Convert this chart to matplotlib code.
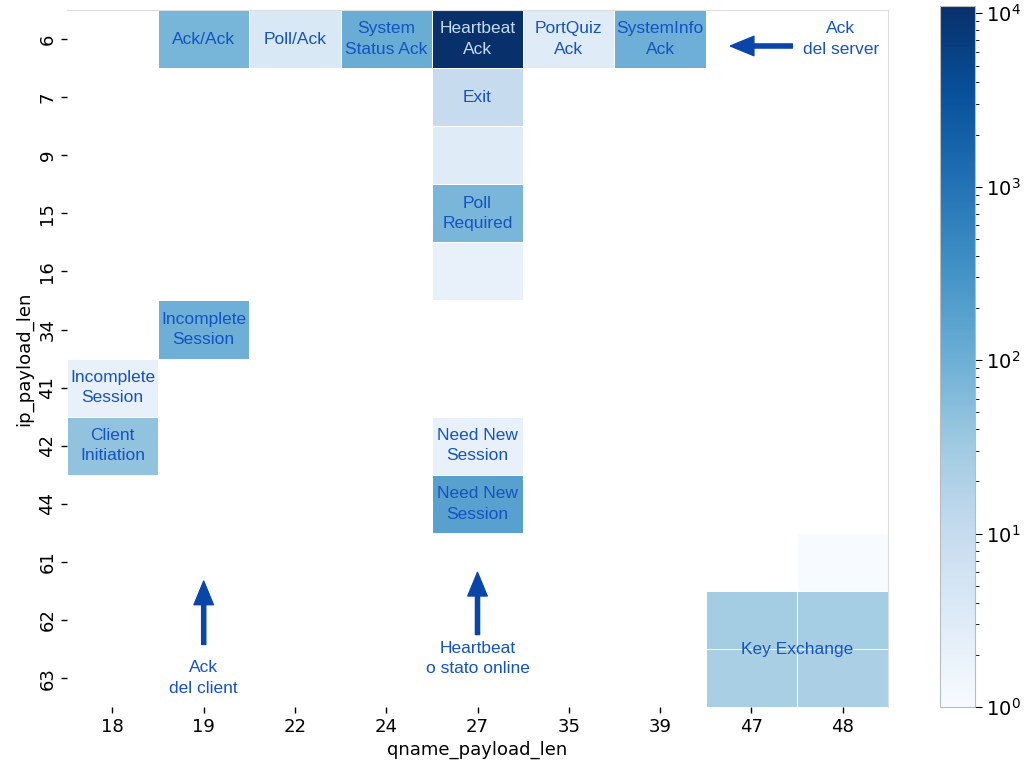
import numpy as np
import matplotlib
matplotlib.use("Agg")
import matplotlib.pyplot as plt
from matplotlib.colors import LogNorm
from matplotlib import font_manager

# axis categories
ip_payload_len = [6, 7, 9, 15, 16, 34, 41, 42, 44, 61, 62, 63]
qname_payload_len = [18, 19, 22, 24, 27, 35, 39, 47, 48]

nan = np.nan
# packet counts, one row per ip_payload_len
counts = [
    [nan, 80, 4, 110, 11000, 3, 100, nan, nan],   # 6
    [nan, nan, nan, nan, 10, nan, nan, nan, nan],  # 7
    [nan, nan, nan, nan, 3, nan, nan, nan, nan],   # 9
    [nan, nan, nan, nan, 75, nan, nan, nan, nan],  # 15
    [nan, nan, nan, nan, 2, nan, nan, nan, nan],   # 16
    [nan, 100, nan, nan, nan, nan, nan, nan, nan], # 34
    [2, nan, nan, nan, nan, nan, nan, nan, nan],   # 41
    [45, nan, nan, nan, 2, nan, nan, nan, nan],    # 42
    [nan, nan, nan, nan, 180, nan, nan, nan, nan], # 44
    [nan, nan, nan, nan, nan, nan, nan, nan, 1],   # 61
    [nan, nan, nan, nan, nan, nan, nan, 28, 27],   # 62
    [nan, nan, nan, nan, nan, nan, nan, 24, 22],   # 63
]

# message type names written in the cells: (ip_payload_len, qname_payload_len, text)
cell_labels = [
    (6, 19, "Ack/Ack"),
    (6, 22, "Poll/Ack"),
    (6, 24, "System\nStatus Ack"),
    (6, 27, "Heartbeat\nAck"),
    (6, 35, "PortQuiz\nAck"),
    (6, 39, "SystemInfo\nAck"),
    (7, 27, "Exit"),
    (15, 27, "Poll\nRequired"),
    (34, 19, "Incomplete\nSession"),
    (41, 18, "Incomplete\nSession"),
    (42, 18, "Client\nInitiation"),
    (42, 27, "Need New\nSession"),
    (44, 27, "Need New\nSession"),
]

installed = {f.name for f in font_manager.fontManager.ttflist}
tick_family = ["Liberation Sans Narrow", "DejaVu Sans"] if "Liberation Sans Narrow" in installed else ["DejaVu Sans"]
note_family = ["Liberation Sans", "DejaVu Sans"]
text_blue = "#1552c2"
arrow_blue = "#0a45a8"
note_size = 12.5
note_spacing = 1.45

fig = plt.figure(figsize=(10.28, 7.67), dpi=100)
ax = fig.add_axes([0.065, 0.078, 0.799, 0.909])
cax = fig.add_axes([0.914, 0.078, 0.034, 0.914])

data = np.ma.masked_invalid(np.array(counts, dtype=float))
mesh = ax.pcolormesh(np.arange(len(qname_payload_len) + 1),
                     np.arange(len(ip_payload_len) + 1),
                     data, cmap="Blues", norm=LogNorm(vmin=1, vmax=11000),
                     edgecolors="white", linewidth=0.6)
ax.set_xlim(0, len(qname_payload_len))
ax.set_ylim(len(ip_payload_len), 0)

ax.set_xticks(np.arange(len(qname_payload_len)) + 0.5)
ax.set_xticklabels([str(v) for v in qname_payload_len], family=tick_family, fontsize=13)
ax.set_yticks(np.arange(len(ip_payload_len)) + 0.5)
ax.set_yticklabels([str(v) for v in ip_payload_len], family=tick_family, fontsize=13,
                   rotation=90, va="center")
ax.tick_params(length=4, width=1)
ax.set_xlabel("qname_payload_len", family=tick_family, fontsize=13)
ax.set_ylabel("ip_payload_len", family=tick_family, fontsize=13)

for side in ["left", "bottom"]:
    ax.spines[side].set_visible(False)
for side in ["top", "right"]:
    ax.spines[side].set_color("#dddddd")

for ip, qn, label in cell_labels:
    r = ip_payload_len.index(ip)
    c = qname_payload_len.index(qn)
    color = "#c6dbef" if counts[r][c] > 3000 else text_blue
    ax.text(c + 0.5, r + 0.5, label, ha="center", va="center", color=color,
            family=note_family, fontsize=note_size, linespacing=note_spacing)

# Key Exchange spans the four cells at the bottom right
ax.text(qname_payload_len.index(48), ip_payload_len.index(63), "Key Exchange",
        ha="center", va="center", color=text_blue, family=note_family, fontsize=note_size)

arrow = dict(facecolor=arrow_blue, edgecolor=arrow_blue, width=3, headwidth=14, headlength=17)
# server ack
ax.annotate("", xy=(7.27, 0.62), xytext=(7.95, 0.62), arrowprops=arrow)
ax.text(8.48, 0.5, "Ack\ndel server", ha="center", va="center", color=text_blue,
        family=note_family, fontsize=note_size, linespacing=note_spacing)
# client ack
ax.annotate("", xy=(1.5, 9.83), xytext=(1.5, 10.92), arrowprops=arrow)
ax.text(1.5, 11.5, "Ack\ndel client", ha="center", va="center", color=text_blue,
        family=note_family, fontsize=note_size, linespacing=note_spacing)
# heartbeat
ax.annotate("", xy=(4.5, 9.68), xytext=(4.5, 10.75), arrowprops=arrow)
ax.text(4.5, 11.16, "Heartbeat\no stato online", ha="center", va="center", color=text_blue,
        family=note_family, fontsize=note_size, linespacing=note_spacing)

cb = fig.colorbar(mesh, cax=cax)
cb.outline.set_edgecolor("#bbbbbb")
cb.outline.set_linewidth(0.8)
cax.tick_params(which="major", labelsize=14, length=5)
cax.tick_params(which="minor", length=3)

fig.savefig("out.png", dpi=100)
